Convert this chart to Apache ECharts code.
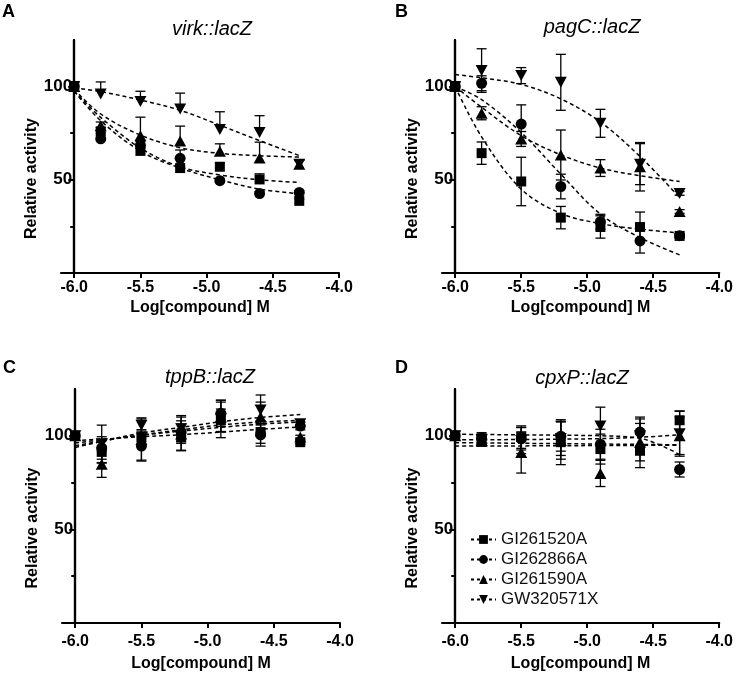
<!DOCTYPE html>
<html><head><meta charset="utf-8">
<script src="https://cdn.jsdelivr.net/npm/echarts@6/dist/echarts.min.js"></script>
<style>html,body{margin:0;padding:0;background:#fff}#c{width:736px;height:677px}</style>
</head><body><div id="c"></div>
<script>
// ---------- data ----------
const xValues = [-6.0, -5.8, -5.5, -5.2, -4.9, -4.6, -4.3];
const compounds = ['GI261520A', 'GI262866A', 'GI261590A', 'GW320571X'];
const panelTitles = ['virk::lacZ', 'pagC::lacZ', 'tppB::lacZ', 'cpxP::lacZ'];
const panelLetters = ['A', 'B', 'C', 'D'];
const xTickValues = [-6.0, -5.5, -5.0, -4.5, -4.0];
const yTickValues = [50, 100];
const yMinorTickValues = [25, 75];
const xAxisName = 'Log[compound] M';
const yAxisName = 'Relative activity';

// Panel A  virk::lacZ
const A_GI261520A = [100, 76, 65.5, 56.3, 57, 50.2, 38.7];
const A_GI261520A_err = [0, 2, 1.5, 1, 2, 3, 1];
const A_GI261520A_fit = [97.5, 83.5, 67, 57, 52.6, 50, 48.6];
const A_GI262866A = [100, 72, 68.5, 61.5, 49.5, 42.6, 43.2];
const A_GI262866A_err = [0, 3, 2, 4.5, 1, 1, 1];
const A_GI262866A_fit = [97.5, 81.7, 65.4, 56.3, 50, 45, 42.5];
const A_GI261590A = [100, 79, 73.6, 70.8, 65.3, 61.7, 58.4];
const A_GI261590A_err = [0, 2, 10, 8, 4, 8.5, 2];
const A_GI261590A_fit = [98.5, 85.3, 74, 67.2, 64.2, 62.9, 62.2];
const A_GW320571X = [100, 96, 92, 88, 77, 75.4, 58.4];
const A_GW320571X_err = [0, 6.5, 5.5, 8.5, 9.5, 9, 2];
const A_GW320571X_fit = [99.3, 97.3, 92.8, 87.3, 79.3, 71, 63];

// Panel B  pagC::lacZ
const B_GI261520A = [100, 64.3, 49.1, 29.7, 24.7, 24.7, 19.9];
const B_GI261520A_err = [0, 6, 13, 6, 6, 8, 1];
const B_GI261520A_fit = [100, 73, 45, 32, 26.5, 23.5, 21.5];
const B_GI262866A = [100, 101.8, 79.9, 46.4, 27.5, 17.2, 20];
const B_GI262866A_err = [0, 4, 10.3, 6.6, 4, 6.5, 1];
const B_GI262866A_fit = [100, 93, 75.4, 53, 31.6, 19, 9.7];
const B_GI261590A = [100, 85.7, 71.9, 63.3, 56.3, 57, 33];
const B_GI261590A_err = [0, 3.5, 4, 13.4, 4.5, 13, 1];
const B_GI261590A_fit = [100, 88.9, 73.7, 63.4, 56.3, 52.2, 49.1];
const B_GW320571X = [100, 108.6, 105.9, 102.3, 80.3, 58.4, 42.7];
const B_GW320571X_err = [0, 11.7, 4.3, 15, 7.5, 11, 1];
const B_GW320571X_fit = [106.5, 104.7, 101.2, 93.4, 81, 62.5, 40.5];

// Panel C  tppB::lacZ
const C_GI261520A = [100, 91.4, 99.3, 99.3, 108.3, 102, 96.6];
const C_GI261520A_err = [0, 6, 4, 7, 6, 6, 1];
const C_GI261520A_fit = [96.2, 97.8, 100.3, 102.5, 104.5, 106.2, 107.4];
const C_GI262866A = [100, 93.5, 94.5, 102, 112, 100.5, 105.2];
const C_GI262866A_err = [0, 6, 8, 6, 7, 6, 2];
const C_GI262866A_fit = [97.5, 98.2, 99.5, 100.6, 102, 103.5, 104.7];
const C_GI261590A = [100, 84.8, 98, 101, 110, 110, 99.3];
const C_GI261590A_err = [0, 7, 11, 9, 8, 8, 1];
const C_GI261590A_fit = [94.7, 97.2, 100.5, 103.2, 105.8, 107.3, 108.3];
const C_GW320571X = [100, 95.7, 105.6, 103.8, 109, 113.8, 106.5];
const C_GW320571X_err = [0, 10, 4, 7, 10, 8, 1];
const C_GW320571X_fit = [93.8, 97, 101.5, 104.5, 107.5, 109.8, 111.4];

// Panel D  cpxP::lacZ
const D_GI261520A = [100, 97.5, 99.3, 96.6, 92.9, 92, 108.3];
const D_GI261520A_err = [0, 3, 6, 12, 8, 9, 5];
const D_GI261520A_fit = [96.3, 96.2, 96, 95.8, 95.6, 95.4, 95.2];
const D_GI262866A = [100, 98.7, 98.4, 99.8, 95.5, 102, 82];
const D_GI262866A_err = [0, 3, 6, 8, 8, 8, 4];
const D_GI262866A_fit = [100.8, 100.7, 100.5, 100.3, 100, 98.7, 90];
const D_GI261590A = [100, 97.5, 91.1, 97.5, 79.9, 96.6, 100];
const D_GI261590A_err = [0, 3, 11, 10, 7, 10, 10];
const D_GI261590A_fit = [94.5, 94.5, 94.6, 94.7, 94.8, 94.9, 95];
const D_GW320571X = [100, 98, 97.5, 98.5, 105.3, 100, 101.1];
const D_GW320571X_err = [0, 3, 7, 9, 10, 9, 12];
const D_GW320571X_fit = [97.8, 97.9, 98, 98.2, 98.5, 99.2, 100.5];

// ---------- assembly ----------
const panelMeans = [
  [A_GI261520A, A_GI262866A, A_GI261590A, A_GW320571X],
  [B_GI261520A, B_GI262866A, B_GI261590A, B_GW320571X],
  [C_GI261520A, C_GI262866A, C_GI261590A, C_GW320571X],
  [D_GI261520A, D_GI262866A, D_GI261590A, D_GW320571X]];
const panelErrs = [
  [A_GI261520A_err, A_GI262866A_err, A_GI261590A_err, A_GW320571X_err],
  [B_GI261520A_err, B_GI262866A_err, B_GI261590A_err, B_GW320571X_err],
  [C_GI261520A_err, C_GI262866A_err, C_GI261590A_err, C_GW320571X_err],
  [D_GI261520A_err, D_GI262866A_err, D_GI261590A_err, D_GW320571X_err]];
const panelFits = [
  [A_GI261520A_fit, A_GI262866A_fit, A_GI261590A_fit, A_GW320571X_fit],
  [B_GI261520A_fit, B_GI262866A_fit, B_GI261590A_fit, B_GW320571X_fit],
  [C_GI261520A_fit, C_GI262866A_fit, C_GI261590A_fit, C_GW320571X_fit],
  [D_GI261520A_fit, D_GI262866A_fit, D_GI261590A_fit, D_GW320571X_fit]];
const upperOnly = [true, false, false, false];

const FONT = '"Liberation Sans", Arial, sans-serif';
const INK = '#000';
const grids = [
  {left: 61, top: 40, width: 278, height: 233},
  {left: 442, top: 40, width: 278, height: 233},
  {left: 62, top: 389, width: 278, height: 234},
  {left: 442, top: 389, width: 278, height: 234}];
const X_MIN = -6.1, X_MAX = -4.0;
const symbols = ['rect', 'circle', 'triangle', 'path://M0,0 L10,0 L5,9 Z'];
const symbolSizes = [10, 11, [12, 11], [12, 11]];
const xLabelMargin = [7, 7, 11, 11];
const xNameGap = [27, 27, 33, 33];

const chart = echarts.init(document.getElementById('c'), null, {renderer: 'canvas'});

const xAxes = [], yAxes = [], series = [], titles = [];
const titleCenters = [[212, 19], [592, 17], [210, 367], [582, 368]];
const letterPos = [[2, 3], [395, 3], [3, 359], [395, 359]];

grids.forEach((g, i) => {
  const yOffset = -(g.width * (xValues[0] - X_MIN) / (X_MAX - X_MIN));
  xAxes.push({
    type: 'value', gridIndex: i, min: X_MIN, max: X_MAX,
    axisLine: {onZero: false, lineStyle: {color: INK, width: 2.2}},
    axisTick: {customValues: xTickValues, length: 5, lineStyle: {color: INK, width: 2}},
    axisLabel: {customValues: xTickValues, formatter: v => v.toFixed(1), color: INK,
      fontFamily: FONT, fontWeight: 'bold', fontSize: 16, margin: xLabelMargin[i]},
    splitLine: {show: false},
    name: xAxisName, nameLocation: 'middle', nameGap: xNameGap[i],
    nameTextStyle: {color: INK, fontFamily: FONT, fontWeight: 'bold', fontSize: 16}
  });
  yAxes.push({
    type: 'value', gridIndex: i, min: 0, max: 125, position: 'left', offset: yOffset,
    axisLine: {show: true, onZero: false, lineStyle: {color: INK, width: 2.2}},
    axisTick: {customValues: yTickValues, length: 6, lineStyle: {color: INK, width: 2}},
    axisLabel: {customValues: yTickValues, color: INK, fontFamily: FONT, fontWeight: 'bold',
      fontSize: 17, margin: 2},
    splitLine: {show: false},
    name: yAxisName, nameLocation: 'middle', nameRotate: 90, nameGap: 31,
    nameTextStyle: {color: INK, fontFamily: FONT, fontWeight: 'bold', fontSize: 16, padding: [0, 44, 0, 0]}
  });
  titles.push({text: panelTitles[i], left: titleCenters[i][0], top: titleCenters[i][1], textAlign: 'center', padding: 0,
    textStyle: {fontFamily: FONT, fontStyle: 'italic', fontWeight: 'normal', fontSize: 20, color: INK}});
  titles.push({text: panelLetters[i], left: letterPos[i][0], top: letterPos[i][1], padding: 0,
    textStyle: {fontFamily: FONT, fontWeight: 'bold', fontSize: 18, color: INK}});
});
// minor y ticks (25, 75) on companion axes
grids.forEach((g, i) => {
  const yOffset = -(g.width * (xValues[0] - X_MIN) / (X_MAX - X_MIN));
  yAxes.push({
    type: 'value', gridIndex: i, min: 0, max: 125, position: 'left', offset: yOffset,
    axisLine: {show: true, onZero: false, lineStyle: {color: INK, width: 2.2}},
    axisLabel: {show: true, customValues: yMinorTickValues, formatter: () => '', fontSize: 1},
    splitLine: {show: false},
    axisTick: {show: true, customValues: yMinorTickValues, length: 4, lineStyle: {color: INK, width: 2}}
  });
  series.push({type: 'line', name: 'minor-' + i, xAxisIndex: i, yAxisIndex: 4 + i, data: [], silent: true});
});

function errRenderer(up) {
  return function (params, api) {
    const x = api.value(0), y = api.value(1), e = api.value(2);
    if (!e) return null;
    const top = api.coord([x, y + e]);
    const bot = api.coord([x, up ? y : y - e]);
    const cw = 5;
    const st = {stroke: INK, lineWidth: 1.3};
    const children = [
      {type: 'line', shape: {x1: top[0], y1: top[1], x2: bot[0], y2: bot[1]}, style: st},
      {type: 'line', shape: {x1: top[0] - cw, y1: top[1], x2: top[0] + cw, y2: top[1]}, style: st}];
    if (!up) children.push({type: 'line', shape: {x1: bot[0] - cw, y1: bot[1], x2: bot[0] + cw, y2: bot[1]}, style: st});
    return {type: 'group', children};
  };
}

for (let p = 0; p < 4; p++) {
  for (let s = 0; s < 4; s++) {
    const means = panelMeans[p][s], errs = panelErrs[p][s], fit = panelFits[p][s];
    series.push({
      type: 'line', name: 'fit-' + p + '-' + s, xAxisIndex: p, yAxisIndex: p,
      data: xValues.map((x, k) => [x, fit[k]]), smooth: 0.35, symbol: 'none', silent: true,
      lineStyle: {color: INK, width: 1.5, type: [4, 3]}, z: 2
    });
    series.push({
      type: 'custom', name: 'err-' + p + '-' + s, xAxisIndex: p, yAxisIndex: p,
      data: xValues.map((x, k) => [x, means[k], errs[k]]), renderItem: errRenderer(upperOnly[p]),
      silent: true, z: 3
    });
    series.push({
      type: 'scatter', name: 'pts-' + p + '-' + s, xAxisIndex: p, yAxisIndex: p,
      data: xValues.map((x, k) => [x, means[k]]), symbol: symbols[s], symbolSize: symbolSizes[s],
      itemStyle: {color: INK, opacity: 1}, z: 4, silent: true
    });
  }
}
compounds.forEach((c, s) => {
  series.push({
    type: 'line', name: c, xAxisIndex: 3, yAxisIndex: 3, data: [],
    symbol: symbols[s], symbolSize: symbolSizes[s],
    itemStyle: {color: INK}, lineStyle: {color: INK, width: 1.3, type: [3, 3]}
  });
});

chart.setOption({
  animation: false,
  backgroundColor: '#fff',
  title: titles,
  grid: grids.map(g => Object.assign({containLabel: false}, g)),
  xAxis: xAxes,
  yAxis: yAxes,
  legend: {
    data: compounds, orient: 'vertical', left: 465, top: 526, itemWidth: 25, itemHeight: 11, itemGap: 3,
    selectedMode: false,
    textStyle: {fontFamily: FONT, fontSize: 17, color: '#111'}
  },
  series
});
</script></body></html>
